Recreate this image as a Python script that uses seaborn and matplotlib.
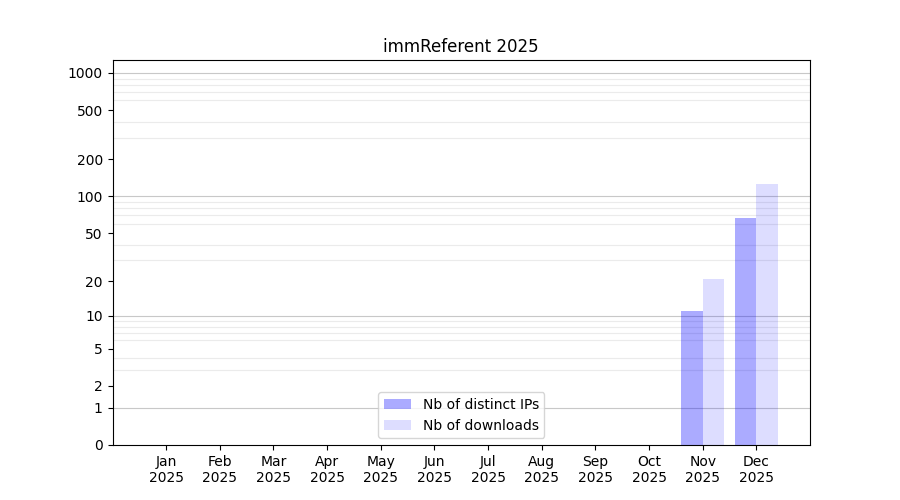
import numpy as np
import pandas as pd
import matplotlib
matplotlib.use("Agg")
import matplotlib.pyplot as plt
from matplotlib.ticker import FixedLocator, FixedFormatter
import seaborn as sns

months = ["Jan", "Feb", "Mar", "Apr", "May", "Jun", "Jul", "Aug", "Sep", "Oct", "Nov", "Dec"]
year = "2025"
distinct_ips = [0, 0, 0, 0, 0, 0, 0, 0, 0, 0, 11, 67]
downloads = [0, 0, 0, 0, 0, 0, 0, 0, 0, 0, 21, 126]
series_names = ["Nb of distinct IPs", "Nb of downloads"]
y_ticks = [0, 1, 2, 5, 10, 20, 50, 100, 200, 500, 1000]
title = "immReferent 2025"

labels = [f"{m}\n{year}" for m in months]
df = pd.DataFrame({
    "month": labels * 2,
    "value": distinct_ips + downloads,
    "series": [series_names[0]] * len(months) + [series_names[1]] * len(months),
})

fig, ax = plt.subplots(figsize=(9, 5), dpi=100)

sns.barplot(data=df, x="month", y="value", hue="series", order=labels,
            hue_order=series_names, palette=["#0000ff", "#0000ff"],
            width=0.8, linewidth=0, ax=ax, legend=False)

face = [(0, 0, 1, 0.33), (0, 0, 1, 0.135)]
for cont, fc in zip(ax.containers, face):
    for p in cont.patches:
        p.set_facecolor(fc)
        p.set_edgecolor("none")

def fwd(x):
    x = np.asarray(x, dtype=float)
    return np.log10(np.clip(x, -0.999999, None) + 1)

def inv(y):
    return 10 ** np.asarray(y, dtype=float) - 1

ax.set_yscale("function", functions=(fwd, inv))
ax.set_ylim(0, 1272)
ax.set_xlim(-1, 12)

ax.yaxis.set_major_locator(FixedLocator(y_ticks))
ax.yaxis.set_major_formatter(FixedFormatter([str(t) for t in y_ticks]))
minor = [m * d for d in (1, 10, 100) for m in range(2, 10)]
ax.yaxis.set_minor_locator(FixedLocator(minor))
ax.yaxis.set_minor_formatter(FixedFormatter([""] * len(minor)))
ax.tick_params(axis="y", which="minor", length=0)
ax.grid(False, which="major")
ax.grid(True, which="minor", axis="y", color="#ebebeb", linewidth=0.8)
for v in (1, 10, 100, 1000):
    ax.axhline(v, color="#c8c8c8", linewidth=0.8, zorder=0.5)
ax.set_axisbelow(True)

ax.set_xlabel("")
ax.set_ylabel("")
ax.set_title(title, fontsize=12)
for s in ax.spines.values():
    s.set_visible(True)
    s.set_color("black")

ax.legend(ax.containers, series_names, loc="lower center")

fig.subplots_adjust(left=0.125, right=0.9, top=0.88, bottom=0.11)
fig.savefig("out.png", dpi=100)
